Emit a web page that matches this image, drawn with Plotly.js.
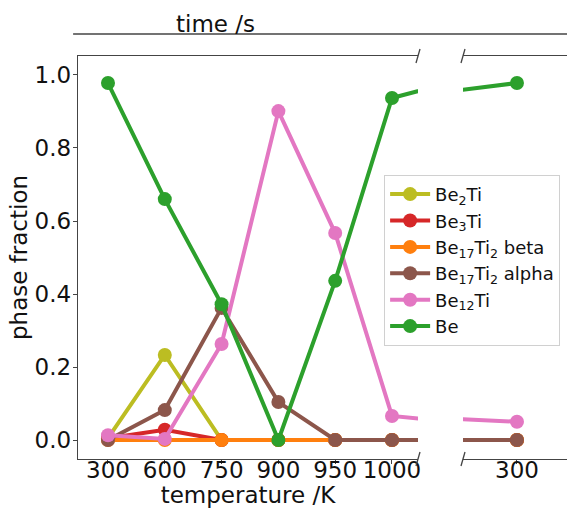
<!DOCTYPE html>
<html>
<head>
<meta charset="utf-8">
<script src="https://cdn.plot.ly/plotly-3.0.1.min.js"></script>
<style>
  html, body { margin: 0; padding: 0; background: #fff; }
  #chart { width: 567px; height: 508px; }
</style>
</head>
<body>
<div id="chart"></div>
<script>
// Temperature steps (left panel) and the final hold time (right panel)
const temperatureLabels = ['300', '600', '750', '900', '950', '1000'];
const timeLabels = ['300'];

// Phase fractions: one value per temperature step, then one for the hold time
const be2Ti        = [0.005, 0.233, 0.000, 0.000, 0.000, 0.000, 0.000];
const be3Ti        = [0.005, 0.028, 0.000, 0.000, 0.000, 0.000, 0.000];
const be17Ti2Beta  = [0.000, 0.000, 0.000, 0.000, 0.000, 0.000, 0.000];
const be17Ti2Alpha = [0.000, 0.082, 0.362, 0.104, 0.000, 0.000, 0.000];
const be12Ti       = [0.013, 0.003, 0.263, 0.901, 0.567, 0.066, 0.050];
const be           = [0.978, 0.660, 0.372, 0.000, 0.436, 0.937, 0.978];

const seriesNames = ['Be<sub>2</sub>Ti', 'Be<sub>3</sub>Ti', 'Be<sub>17</sub>Ti<sub>2</sub> beta',
                     'Be<sub>17</sub>Ti<sub>2</sub> alpha', 'Be<sub>12</sub>Ti', 'Be'];
const seriesValues = [be2Ti, be3Ti, be17Ti2Beta, be17Ti2Alpha, be12Ti, be];
const seriesColors = ['#bcbd22', '#d62728', '#ff7f0e', '#8c564b', '#e377c2', '#2ca02c'];

// x positions: index of each step along the (broken) axis
const allLabels = temperatureLabels.concat(timeLabels);
const xPos = allLabels.map((_, i) => i);
const tempTicks = temperatureLabels.map((_, i) => i);
const timeTicks = timeLabels.map((_, i) => temperatureLabels.length + i);

const FONT = 'DejaVu Sans, Verdana, sans-serif';
const traces = [];
// Same data on both panels; each panel clips to its own x-range
['x', 'x2'].forEach((xa, panel) => {
  seriesValues.forEach((vals, k) => {
    traces.push({
      type: 'scatter', mode: 'lines+markers',
      x: xPos, y: vals, xaxis: xa, yaxis: panel === 0 ? 'y' : 'y2',
      name: seriesNames[k], showlegend: panel === 0,
      line: { color: seriesColors[k], width: 4 },
      marker: { color: seriesColors[k], size: 14 },
      hoverinfo: 'skip'
    });
  });
});

const spine = '#444';
const axisCommon = {
  showgrid: false, zeroline: false, showline: true, linecolor: spine, linewidth: 1.3,
  ticks: 'outside', ticklen: 4, tickwidth: 1, tickcolor: spine,
  tickfont: { family: FONT, size: 23, color: '#111' }
};

const leftDomain = [0, 0.6953];
const rightDomain = [0.7873, 1];
const yRange = [-0.052, 1.052];

// Diagonal break marks at the cut edges of the two panels
function breakMark(xp, yp) {
  return {
    type: 'line', xref: 'paper', yref: 'paper',
    xsizemode: 'pixel', ysizemode: 'pixel', xanchor: xp, yanchor: yp,
    x0: -2, x1: 2, y0: -7, y1: 7,
    line: { color: spine, width: 1.3 }
  };
}

const layout = {
  width: 567, height: 508,
  margin: { l: 78, r: 0, t: 56, b: 49 },
  paper_bgcolor: '#fff', plot_bgcolor: '#fff',
  font: { family: FONT, color: '#111' },
  showlegend: true,
  legend: {
    x: 0.626, y: 0.705, xanchor: 'left', yanchor: 'top',
    bgcolor: 'rgba(255,255,255,0.9)', bordercolor: '#d0d0d0', borderwidth: 1,
    font: { family: FONT, size: 18, color: '#111' },
    itemwidth: 40, tracegroupgap: 0
  },
  xaxis: Object.assign({}, axisCommon, {
    domain: leftDomain, range: [-0.528, 5.458], mirror: true,
    tickmode: 'array', tickvals: tempTicks, ticktext: temperatureLabels,
    anchor: 'y', ticklabelstandoff: -14, automargin: false,
    title: { text: 'temperature /K', font: { family: FONT, size: 23, color: '#111' }, standoff: 0 }
  }),
  xaxis2: Object.assign({}, axisCommon, {
    domain: rightDomain, range: [5.55, 6.417], mirror: true,
    tickmode: 'array', tickvals: timeTicks, ticktext: timeLabels,
    anchor: 'y2', ticklabelstandoff: -14
  }),
  yaxis: Object.assign({}, axisCommon, {
    range: yRange, anchor: 'x', ticklabelstandoff: -3, automargin: false,
    tickmode: 'array', tickvals: [0, 0.2, 0.4, 0.6, 0.8, 1.0], tickformat: '.1f',
    title: { text: 'phase fraction', font: { family: FONT, size: 23, color: '#111' }, standoff: 0 }
  }),
  yaxis2: { range: yRange, anchor: 'x2', visible: false, showgrid: false, zeroline: false },
  shapes: [
    breakMark(leftDomain[1], 1), breakMark(leftDomain[1], 0),
    breakMark(rightDomain[0], 1), breakMark(rightDomain[0], 0),
    // secondary "time" axis line above the panels
    { type: 'line', xref: 'paper', yref: 'paper', x0: -0.01, x1: 1, y0: 1.0546, y1: 1.0546,
      line: { color: spine, width: 1.3 } }
  ],
  annotations: [
    { text: 'time /s', xref: 'paper', yref: 'paper', x: 0.282, y: 1.079,
      xanchor: 'center', yanchor: 'middle', showarrow: false,
      font: { family: FONT, size: 23, color: '#111' } }
  ]
};

Plotly.newPlot('chart', traces, layout, { staticPlot: true, displayModeBar: false });
</script>
</body>
</html>
